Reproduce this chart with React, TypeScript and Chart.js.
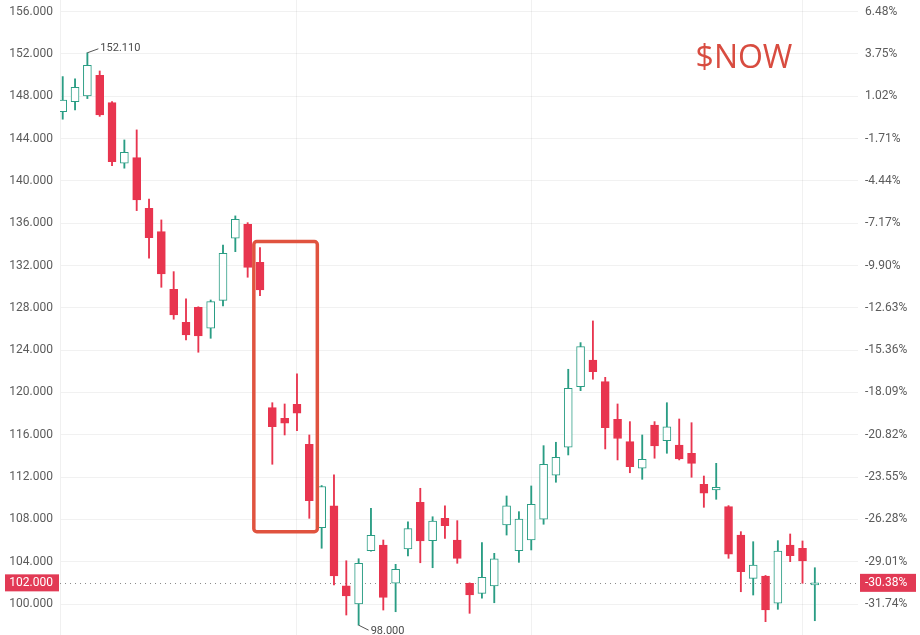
import React, { useEffect, useRef } from 'react';
import { Chart, registerables } from 'chart.js';

Chart.register(...registerables);

// ---- data ----
const opens = [
  146.55, 147.49, 148.03, 149.99, 147.4, 141.67, 142.2, 137.41, 135.2, 129.75,
  126.63, 128.05, 126.07, 128.7, 134.58, 135.9, 132.31, 118.56, 117.56, 118.88,
  115.1, 107.21, 109.29, 101.73, 100.0, 105.04, 105.58, 101.96, 105.2, 109.62,
  105.99, 108.1, 106.05, 101.96, 101.01, 101.7, 107.47, 105.04, 106.05, 108.01,
  112.17, 114.82, 120.55, 123.07, 121.02, 117.46, 115.35, 112.83, 116.92, 115.44,
  115.03, 114.25, 111.32, 110.78, 109.2, 106.52, 102.43, 102.65, 100.07, 105.58,
  105.27, 101.8,
];
const highs = [
  149.86, 149.64, 152.11, 150.39, 147.5, 143.87, 144.82, 138.29, 136.31, 131.42,
  128.84, 128.1, 128.74, 133.94, 136.69, 136.05, 133.69, 119.03, 118.91, 121.75,
  115.98, 111.2, 112.2, 104.09, 104.28, 109.05, 106.05, 103.75, 107.78, 110.94,
  108.25, 109.29, 107.88, 102.0, 105.8, 104.79, 110.21, 108.73, 111.16, 114.97,
  115.29, 122.19, 124.71, 126.76, 121.43, 118.91, 117.24, 115.98, 117.24, 119.03,
  117.49, 117.14, 112.1, 113.3, 109.3, 106.84, 105.89, 102.7, 105.99, 106.62,
  105.96, 103.43,
];
const lows = [
  145.83, 146.71, 147.78, 146.1, 141.44, 141.2, 137.19, 132.69, 129.94, 126.92,
  124.96, 123.8, 125.12, 128.18, 133.31, 130.89, 129.15, 113.21, 115.98, 116.39,
  108.1, 105.27, 101.8, 98.96, 98.0, 105.0, 99.43, 99.27, 104.54, 103.9,
  103.43, 106.21, 103.85, 99.12, 100.54, 100.12, 106.52, 103.94, 105.11, 107.54,
  111.51, 114.09, 120.17, 121.25, 114.66, 113.62, 112.41, 111.79, 113.78, 114.25,
  113.62, 111.98, 109.14, 109.9, 104.32, 101.16, 100.85, 98.33, 99.5, 104.0,
  101.96, 98.42,
];
const closes = [
  147.65, 148.85, 150.93, 146.23, 141.82, 142.71, 138.2, 134.63, 131.2, 127.32,
  125.43, 125.34, 128.58, 133.16, 136.37, 131.83, 129.69, 116.76, 117.09, 118.03,
  109.77, 111.11, 102.65, 100.76, 103.85, 106.5, 100.63, 103.28, 107.12, 105.96,
  107.85, 107.4, 104.32, 100.85, 102.52, 104.28, 109.29, 108.04, 109.43, 113.21,
  113.87, 120.39, 124.33, 121.96, 116.67, 115.65, 112.98, 113.68, 114.94, 116.76,
  113.71, 113.3, 110.47, 111.03, 104.7, 103.05, 103.69, 99.43, 105.01, 104.57,
  104.07, 102.0,
];
const priceTicks = [156, 152, 148, 144, 140, 136, 132, 128, 124, 120, 116, 112, 108, 104, 100];
const monthStartIdx = [19, 38, 60];
const BASE_PRICE = 146.505;
const LAST_PRICE = 102.0;
const X_MIN = -0.22;
const X_MAX = 64.5;
const Y_MIN = 97.07;
const Y_MAX = 157.1;
const highlightFromIdx = 15.5;
const highlightToIdx = 20.65;
const highlightLow = 106.84;
const highlightHigh = 134.26;
const TICKER = '$NOW';

const RED = '#e8354f';
const GREEN = '#2a9d84';
const LABEL_RED = '#e23a55';
const BOX_RED = '#e0533f';
const TICK_COLOR = '#5b5b5b';
const GRID = 'rgba(0,0,0,0.055)';
const FONT = 'Roboto, "Noto Sans", sans-serif';

const pct = (v: number) => ((v / BASE_PRICE - 1) * 100).toFixed(2) + '%';

const overlayPlugin = {
  id: 'overlay',
  beforeDatasetsDraw(chart: any) {
    const { ctx, chartArea: ca, scales } = chart;
    const py = Math.round(scales.y.getPixelForValue(LAST_PRICE)) + 0.5;
    ctx.save();
    ctx.strokeStyle = '#8a8a8a';
    ctx.lineWidth = 1;
    ctx.setLineDash([1, 4]);
    ctx.beginPath();
    ctx.moveTo(ca.left, py);
    ctx.lineTo(ca.right, py);
    ctx.stroke();
    ctx.restore();
  },
  afterDatasetsDraw(chart: any) {
    const { ctx, chartArea: ca, scales } = chart;
    const xs = scales.x;
    const ys = scales.y;
    ctx.save();

    // highlight rectangle
    const bx0 = xs.getPixelForValue(highlightFromIdx);
    const bx1 = xs.getPixelForValue(highlightToIdx);
    const by0 = ys.getPixelForValue(highlightHigh);
    const by1 = ys.getPixelForValue(highlightLow);
    ctx.strokeStyle = BOX_RED;
    ctx.lineWidth = 3.5;
    ctx.beginPath();
    (ctx as any).roundRect(bx0, by0, bx1 - bx0, by1 - by0, 3);
    ctx.stroke();

    // high / low labels
    let hi = 0;
    let lo = 0;
    highs.forEach((v, i) => { if (v > highs[hi]) hi = i; });
    lows.forEach((v, i) => { if (v < lows[lo]) lo = i; });
    ctx.font = '11px ' + FONT;
    ctx.fillStyle = '#4a4a4a';
    ctx.strokeStyle = '#555';
    ctx.lineWidth = 1;
    const hx = xs.getPixelForValue(hi);
    const hy = ys.getPixelForValue(highs[hi]);
    ctx.beginPath();
    ctx.moveTo(hx, hy);
    ctx.lineTo(hx + 11, hy - 4);
    ctx.stroke();
    ctx.textAlign = 'left';
    ctx.textBaseline = 'middle';
    ctx.fillText(highs[hi].toFixed(3), hx + 13, hy - 5);
    const lx = xs.getPixelForValue(lo);
    const ly = ys.getPixelForValue(lows[lo]);
    ctx.beginPath();
    ctx.moveTo(lx, ly);
    ctx.lineTo(lx + 10, ly + 5);
    ctx.stroke();
    ctx.fillText(lows[lo].toFixed(3), lx + 12, ly + 6);

    // ticker text
    ctx.font = '32px "Open Sans", ' + FONT;
    ctx.fillStyle = '#d84c40';
    ctx.textAlign = 'center';
    ctx.textBaseline = 'alphabetic';
    ctx.fillText(TICKER, ca.right - 114, ca.top + 68);
    ctx.restore();
  },
  afterDraw(chart: any) {
    const { ctx, chartArea: ca, scales } = chart;
    const py = scales.y.getPixelForValue(LAST_PRICE);
    ctx.save();
    ctx.font = '12px ' + FONT;
    ctx.textBaseline = 'middle';
    // left price tag
    ctx.fillStyle = LABEL_RED;
    ctx.fillRect(5, py - 8.5, ca.left - 6, 17);
    ctx.fillStyle = '#fff';
    ctx.textAlign = 'right';
    ctx.fillText(LAST_PRICE.toFixed(3), ca.left - 7, py);
    // right percent tag
    ctx.fillStyle = LABEL_RED;
    ctx.fillRect(ca.right + 2, py - 9, 56, 18);
    ctx.fillStyle = '#fff';
    ctx.textAlign = 'left';
    ctx.fillText(pct(LAST_PRICE), ca.right + 7, py);
    ctx.restore();
  },
};

const noPad = (s: any) => {
  s.paddingTop = 0;
  s.paddingBottom = 0;
};

export default function App() {
  const ref = useRef<HTMLCanvasElement | null>(null);

  useEffect(() => {
    if (!ref.current) return;
    const up = closes.map((c, i) => c >= opens[i]);
    const chart = new Chart(ref.current, {
      type: 'bar',
      data: {
        datasets: [
          {
            label: 'body',
            order: 0,
            data: opens.map((o, i) => ({ x: i, y: [o, closes[i]] })) as any,
            backgroundColor: up.map((u) => (u ? '#ffffff' : RED)),
            borderColor: up.map((u) => (u ? GREEN : RED)),
            borderWidth: 1,
            borderSkipped: false,
            barThickness: 8,
            grouped: false,
          } as any,
          {
            label: 'wick',
            order: 1,
            data: lows.map((l, i) => ({ x: i, y: [l, highs[i]] })) as any,
            backgroundColor: up.map((u) => (u ? GREEN : RED)),
            borderWidth: 0,
            barThickness: 1.2,
            grouped: false,
          } as any,
        ],
      },
      options: {
        animation: false,
        responsive: true,
        maintainAspectRatio: false,
        layout: { padding: 0 },
        plugins: {
          legend: { display: false },
          tooltip: { enabled: false },
        },
        scales: {
          x: {
            type: 'linear',
            min: X_MIN,
            max: X_MAX,
            offset: false,
            ticks: { display: false },
            grid: { color: GRID, drawTicks: false, offset: false },
            border: { display: false },
            afterBuildTicks: (s: any) => {
              s.ticks = monthStartIdx.map((v) => ({ value: v }));
            },
            afterFit: (s: any) => {
              s.height = 0;
              s.paddingLeft = 0;
              s.paddingRight = 0;
            },
          },
          y: {
            type: 'linear',
            position: 'left',
            min: Y_MIN,
            max: Y_MAX,
            afterBuildTicks: (s: any) => {
              s.ticks = priceTicks.map((v) => ({ value: v }));
            },
            afterFit: (s: any) => {
              s.width = 60;
              noPad(s);
            },
            ticks: {
              color: TICK_COLOR,
              font: { family: FONT, size: 12 },
              padding: 7,
              callback: (v: any) => Number(v).toFixed(3),
            },
            grid: { color: GRID, drawTicks: false },
            border: { display: true, color: 'rgba(0,0,0,0.06)' },
          },
          y2: {
            type: 'linear',
            position: 'right',
            min: Y_MIN,
            max: Y_MAX,
            afterBuildTicks: (s: any) => {
              s.ticks = priceTicks.map((v) => ({ value: v }));
            },
            afterFit: (s: any) => {
              s.width = 62;
              noPad(s);
            },
            ticks: {
              color: TICK_COLOR,
              font: { family: FONT, size: 12 },
              padding: 7,
              callback: (v: any) => pct(Number(v)),
            },
            grid: { display: false, drawTicks: false },
            border: { display: false },
          },
        },
      } as any,
      plugins: [overlayPlugin],
    });
    return () => chart.destroy();
  }, []);

  return (
    <div style={{ position: 'fixed', left: 0, top: 0, width: 920, height: 635, background: '#fff' }}>
      <canvas ref={ref} />
    </div>
  );
}
